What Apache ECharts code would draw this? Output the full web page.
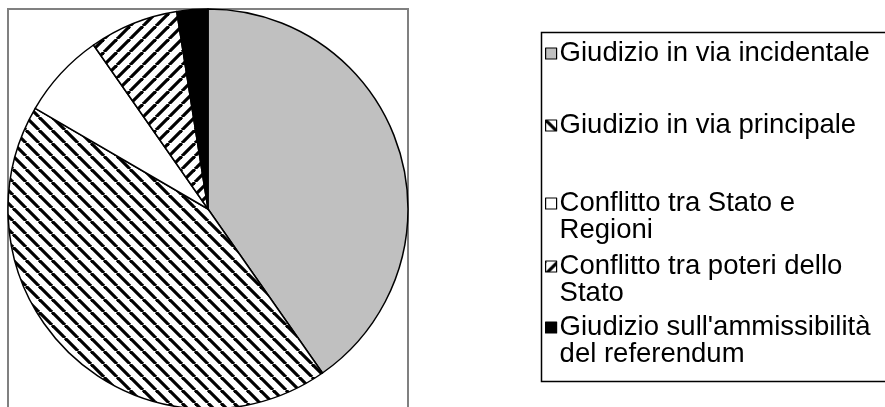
<!DOCTYPE html>
<html>
<head>
<meta charset="utf-8">
<script src="https://cdn.jsdelivr.net/npm/echarts@6/dist/echarts.min.js"></script>
<style>
html,body{margin:0;padding:0;background:#fff;}
#chart{width:885px;height:407px;}
</style>
</head>
<body>
<div id="chart"></div>
<script>
// ---- data ----
var categories = [
  'Giudizio in via incidentale',
  'Giudizio in via principale',
  'Conflitto tra Stato e Regioni',
  'Conflitto tra poteri dello Stato',
  "Giudizio sull'ammissibilità del referendum"
];
var values = [40.3, 43.1, 6.9, 7.2, 2.5];
var legendLines = [
  ['Giudizio in via incidentale'],
  ['Giudizio in via principale'],
  ['Conflitto tra Stato e', 'Regioni'],
  ['Conflitto tra poteri dello', 'Stato'],
  ["Giudizio sull'ammissibilità", 'del referendum']
];

// ---- styles ----
function stripes(dir, period, lw) {
  var c = document.createElement('canvas');
  c.width = period; c.height = period;
  var ctx = c.getContext('2d');
  ctx.fillStyle = '#fff';
  ctx.fillRect(0, 0, period, period);
  ctx.strokeStyle = '#000';
  ctx.lineWidth = lw;
  for (var o = -period; o <= period; o += period) {
    ctx.beginPath();
    if (dir === 'down') { ctx.moveTo(o, 0); ctx.lineTo(o + period, period); }
    else { ctx.moveTo(o, period); ctx.lineTo(o + period, 0); }
    ctx.stroke();
  }
  return c;
}
var fills = [
  '#c0c0c0',
  { image: stripes('down', 13, 3.2), repeat: 'repeat' },
  '#ffffff',
  { image: stripes('up', 13, 3.2), repeat: 'repeat' },
  '#000000'
];

var FONT = 'Liberation Sans, Arial, sans-serif';
var FS = 27.5, LH = 27;
var iconCenters = [53, 125, 203, 266, 327];

var legends = categories.map(function (name, i) {
  var lines = legendLines[i];
  var txt = lines.length > 1 ? '\n' + lines.join('\n') : lines[0];
  var h = lines.length > 1 ? LH * 3 : LH;
  return {
    data: [name],
    orient: 'vertical',
    left: 545,
    top: iconCenters[i] - h / 2,
    itemWidth: 11,
    itemHeight: 11,
    itemGap: 0,
    padding: 0,
    selectedMode: false,
    icon: 'rect',
    itemStyle: { borderColor: '#000', borderWidth: 1.2 },
    textStyle: { fontFamily: FONT, fontSize: FS, lineHeight: LH, color: '#000', padding: [0, 0, 0, -2] },
    formatter: function () { return txt; }
  };
});

var chart = echarts.init(document.getElementById('chart'), null, { renderer: 'canvas' });
chart.setOption({
  animation: false,
  backgroundColor: '#fff',
  graphic: [
    { type: 'rect', shape: { x: 8, y: 9, width: 400, height: 410 }, style: { fill: 'none', stroke: '#808080', lineWidth: 2 }, silent: true },
    { type: 'rect', shape: { x: 541.5, y: 32.5, width: 370, height: 349 }, style: { fill: 'none', stroke: '#000', lineWidth: 1.5 }, silent: true }
  ],
  legend: legends,
  series: [{
    type: 'pie',
    center: [208, 209],
    radius: [0, 200],
    startAngle: 90,
    clockwise: true,
    label: { show: false },
    labelLine: { show: false },
    emphasis: { disabled: true },
    itemStyle: { borderColor: '#000', borderWidth: 1.5 },
    data: categories.map(function (n, i) {
      return { name: n, value: values[i], itemStyle: { color: fills[i] } };
    })
  }]
});
</script>
</body>
</html>
